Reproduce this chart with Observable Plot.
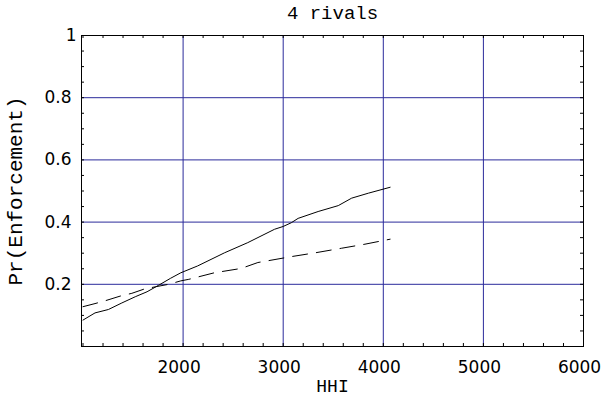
<!DOCTYPE html>
<html><head><meta charset="utf-8">
<script src="https://cdn.jsdelivr.net/npm/d3@7"></script>
<script src="https://cdn.jsdelivr.net/npm/@observablehq/plot@0.6"></script>
<style>body{margin:0;background:#fff}</style>
</head><body><div id="chart"></div>
<script>
const title = "4 rivals";
const xLabel = "HHI";
const yLabel = "Pr(Enforcement)";
const xTicks = [2000, 3000, 4000, 5000, 6000];
const yTicks = [0.2, 0.4, 0.6, 0.8];
const yTopTick = [1];
const xGrid = [2000, 3000, 4000, 5000];
const yGrid = [0.2, 0.4, 0.6, 0.8];
const xMinor = d3.range(1000, 6001, 200);
const yMinor = d3.range(0.05, 1.0, 0.05);

const solidHHI = [1000,1120,1254,1388,1522,1640,1756,1873,1977,2145,2412,2646,2914,3000,3081,3149,3349,3550,3684,3851,4068];
const solidPr  = [0.085,0.108,0.119,0.140,0.160,0.176,0.197,0.219,0.237,0.259,0.301,0.334,0.377,0.386,0.398,0.412,0.434,0.453,0.477,0.493,0.512];
const dashHHI  = [1000,1120,1221,1371,1488,1605,1723,1856,1977,2057,2311,2580,2747,3081,3315,3584,3817,4068];
const dashPr   = [0.128,0.138,0.147,0.162,0.171,0.184,0.192,0.200,0.211,0.216,0.237,0.251,0.270,0.289,0.301,0.316,0.329,0.345];

const solid = solidHHI.map((x, i) => ({x, y: solidPr[i]}));
const dashed = dashHHI.map((x, i) => ({x, y: dashPr[i]}));

const W = 603, H = 395, mL = 81, mR = 20, mT = 35, mB = 49;
const innerW = W - mL - mR, innerH = H - mT - mB;
const grid = "#2b2b9b";
const mono = "Liberation Mono";
const sans = "DejaVu Sans";

const chart = Plot.plot({
  width: W, height: H,
  marginLeft: mL, marginRight: mR, marginTop: mT, marginBottom: mB,
  x: {domain: [985, 6000]},
  y: {domain: [0, 1]},
  style: {background: "white"},
  marks: [
    Plot.ruleX(xGrid, {stroke: grid}),
    Plot.ruleY(yGrid, {stroke: grid}),
    Plot.ruleX(xMinor, {x: d => d, insetTop: innerH - 3, stroke: "black"}),
    Plot.ruleX(xMinor, {x: d => d, insetBottom: innerH - 3, stroke: "black"}),
    Plot.ruleY(yMinor, {y: d => d, insetRight: innerW - 3, stroke: "black"}),
    Plot.ruleY(yMinor, {y: d => d, insetLeft: innerW - 3, stroke: "black"}),
    Plot.line(solid, {x: "x", y: "y", stroke: "black", strokeWidth: 1}),
    Plot.line(dashed, {x: "x", y: "y", stroke: "black", strokeWidth: 1, strokeDasharray: "15,9"}),
    Plot.frame({stroke: "black"}),
    Plot.axisX({ticks: xTicks, tickSize: 0, tickPadding: 14, label: null, fontSize: 17, fontFamily: sans, dx: -4, tickFormat: d => String(d)}),
    Plot.axisY({ticks: yTicks, tickSize: 0, tickPadding: 10, label: null, fontSize: 17, fontFamily: sans, tickFormat: d => String(d)}),
    Plot.axisY({ticks: yTopTick, tickSize: 0, tickPadding: 10, label: null, fontSize: 17, fontFamily: sans, dx: 5, tickFormat: d => String(d)}),
    Plot.text([title], {text: d => d, frameAnchor: "top", lineAnchor: "bottom", dy: -16.5, fontSize: 19, fontFamily: mono, fill: "black"}),
    Plot.text([xLabel], {text: d => d, frameAnchor: "bottom", lineAnchor: "bottom", dy: 45, fontSize: 18, fontFamily: mono, fill: "black"}),
    Plot.text([yLabel], {text: d => d, frameAnchor: "left", textAnchor: "middle", lineAnchor: "bottom", rotate: -90, dx: -60, fontSize: 21, fontFamily: mono, fill: "black"})
  ]
});
document.getElementById("chart").appendChild(chart);
</script>
</body></html>
